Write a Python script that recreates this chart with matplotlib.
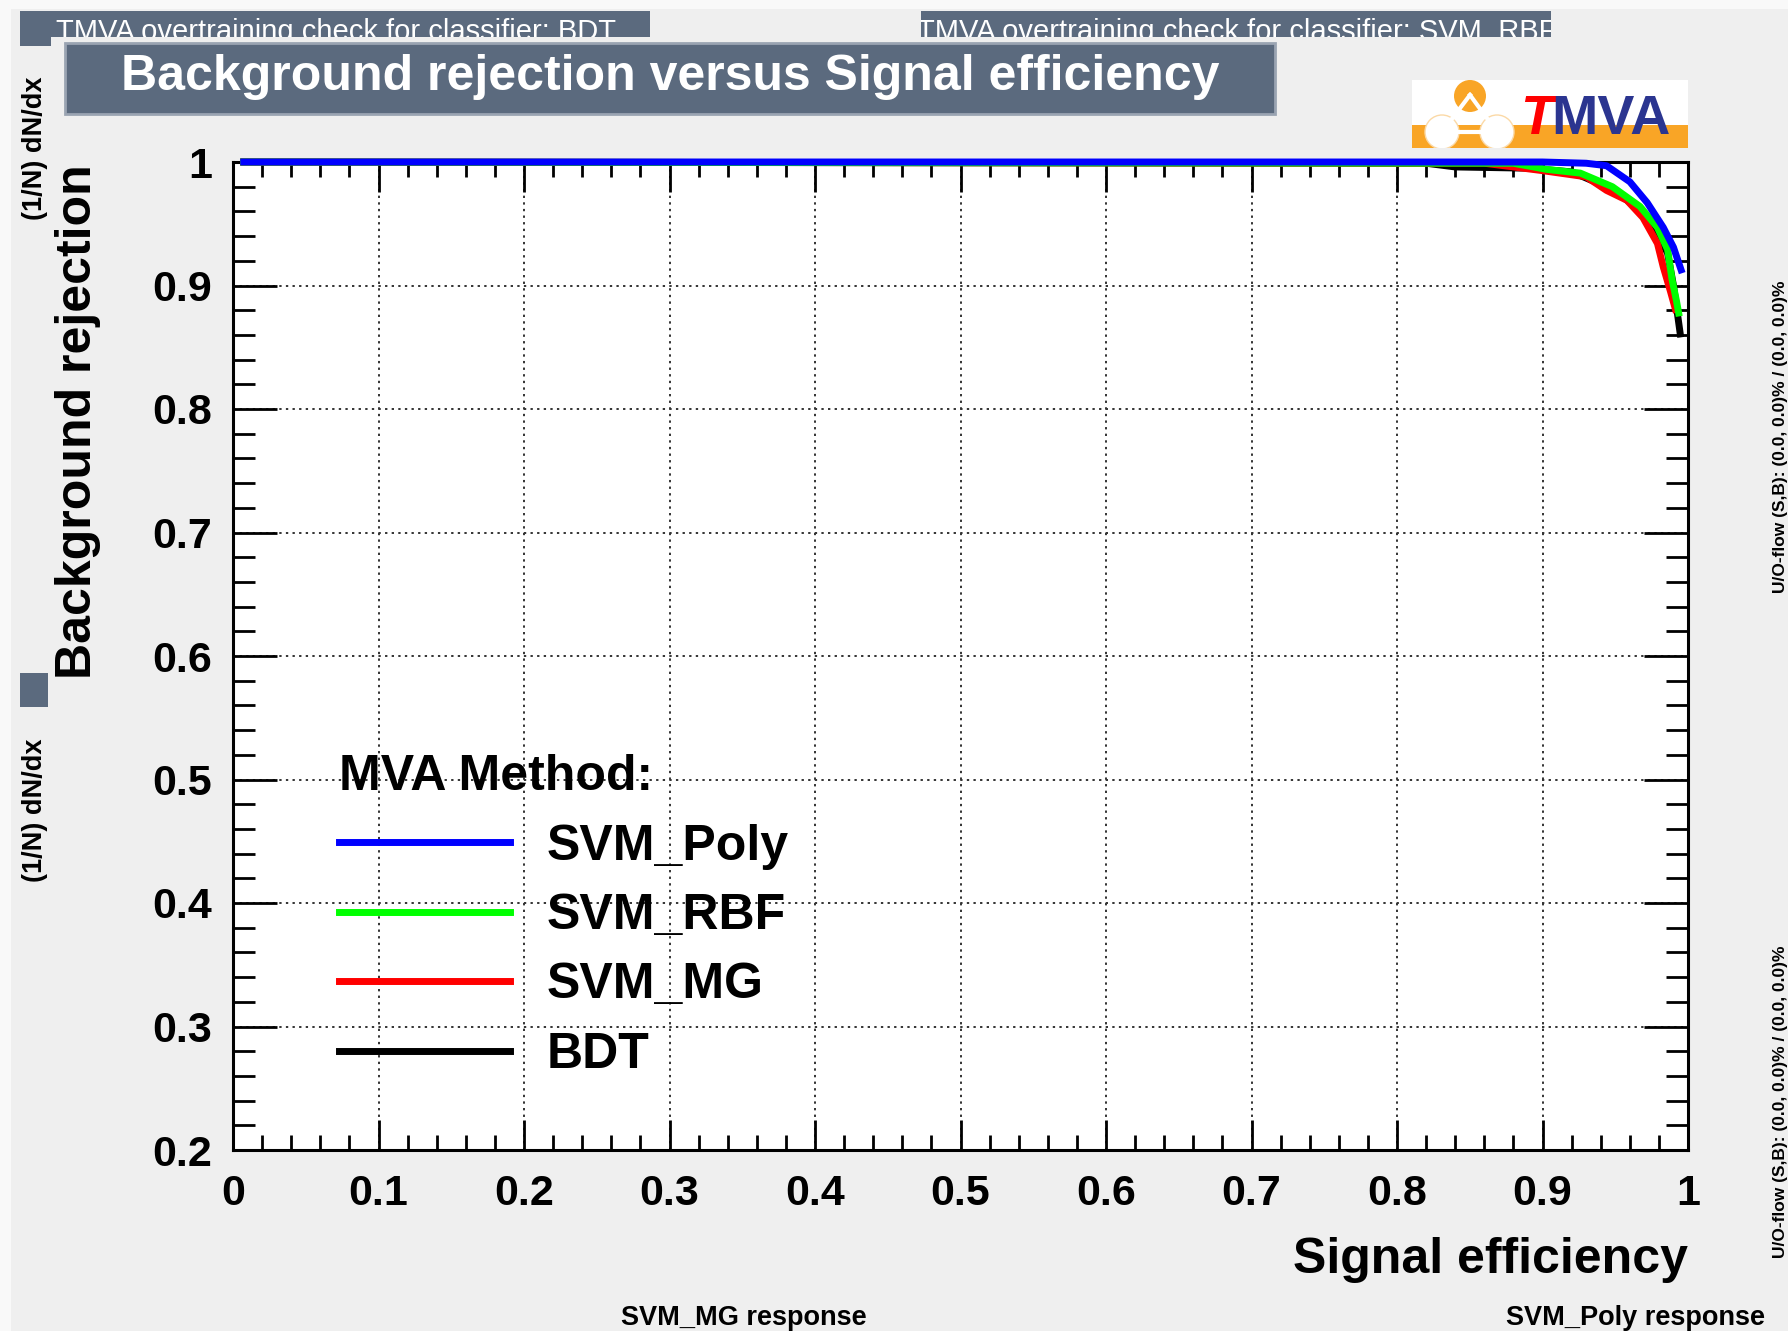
import matplotlib
matplotlib.use("Agg")
import matplotlib.pyplot as plt
from matplotlib.patches import Rectangle, Circle
from matplotlib.lines import Line2D
from matplotlib.ticker import MultipleLocator

# ---------------- data ----------------
methods = ["SVM_Poly", "SVM_RBF", "SVM_MG", "BDT"]
method_colors = ["#0000ff", "#00ff00", "#ff0000", "#000000"]

poly_eff = [0.005, 0.90, 0.93, 0.944, 0.960, 0.972, 0.983, 0.990, 0.996]
poly_rej = [1.000, 1.000, 0.999, 0.997, 0.984, 0.967, 0.947, 0.931, 0.910]

rbf_eff = [0.005, 0.88, 0.903, 0.926, 0.948, 0.967, 0.979, 0.986, 0.989, 0.992, 0.994]
rbf_rej = [1.000, 0.999, 0.994, 0.991, 0.980, 0.964, 0.947, 0.929, 0.905, 0.888, 0.875]

mg_eff = [0.005, 0.86, 0.90, 0.93, 0.944, 0.958, 0.969, 0.979, 0.983, 0.988, 0.992]
mg_rej = [1.000, 0.999, 0.993, 0.988, 0.977, 0.969, 0.955, 0.934, 0.915, 0.895, 0.878]

bdt_eff = [0.005, 0.82, 0.84, 0.89, 0.92, 0.948, 0.966, 0.978, 0.986, 0.990, 0.993, 0.995]
bdt_rej = [1.000, 0.999, 0.996, 0.995, 0.992, 0.978, 0.962, 0.945, 0.926, 0.900, 0.875, 0.858]

xtick_vals = [0.0, 0.1, 0.2, 0.3, 0.4, 0.5, 0.6, 0.7, 0.8, 0.9, 1.0]
xtick_labels = ["0", "0.1", "0.2", "0.3", "0.4", "0.5", "0.6", "0.7", "0.8", "0.9", "1"]
ytick_vals = [0.2, 0.3, 0.4, 0.5, 0.6, 0.7, 0.8, 0.9, 1.0]
ytick_labels = ["0.2", "0.3", "0.4", "0.5", "0.6", "0.7", "0.8", "0.9", "1"]

title_text = "Background rejection versus Signal efficiency"
xlabel_text = "Signal efficiency"
ylabel_text = "Background rejection"
legend_title = "MVA Method:"
banner_texts = ["TMVA overtraining check for classifier: BDT",
                "TMVA overtraining check for classifier: SVM_RBF"]
side_left_text = "(1/N) dN/dx"
side_right_text = "U/O-flow (S,B): (0.0, 0.0)% / (0.0, 0.0)%"
bottom_texts = ["SVM_MG response", "SVM_Poly response"]

# ---------------- figure ----------------
W, H = 1788, 1331
plt.rcParams["font.family"] = ["Liberation Sans", "DejaVu Sans"]
plt.rcParams["font.weight"] = "bold"
BG = "#efefef"
SLATE = "#5b6a7e"

fig = plt.figure(figsize=(W / 100, H / 100), dpi=100, facecolor=BG)


def fx(x):
    return x / W


def fy(y):
    return 1 - y / H


def frect(x0, y0, x1, y1, **kw):
    r = Rectangle((fx(x0), fy(y1)), fx(x1) - fx(x0), fy(y0) - fy(y1),
                  transform=fig.transFigure, **kw)
    fig.add_artist(r)
    return r


# light margins
frect(0, 0, W, 9, facecolor="#f9f9f9", edgecolor="none", zorder=0)
frect(0, 0, 11, H, facecolor="#f9f9f9", edgecolor="none", zorder=0)

# background banners from other canvases
b1 = frect(20, 11, 650, 37, facecolor=SLATE, edgecolor="none", zorder=1)
frect(20, 37, 51, 46, facecolor=SLATE, edgecolor="none", zorder=1)
b2 = frect(921, 11, 1551, 37, facecolor=SLATE, edgecolor="none", zorder=1)
for txt, cx, box in [(banner_texts[0], 336, b1), (banner_texts[1], 1237, b2)]:
    t = fig.text(fx(cx), fy(40), txt, color="white", fontsize=21,
                 fontweight="normal", ha="center", va="baseline", zorder=2)
    t.set_clip_path(box)

frect(20, 673, 48, 707, facecolor=SLATE, edgecolor="none", zorder=1)

for cy in [148, 810]:
    fig.text(fx(35), fy(cy), side_left_text, rotation=90, fontsize=19.5,
             ha="center", va="center", color="black")
for cy in [437, 1102]:
    fig.text(fx(1773), fy(cy), side_right_text, rotation=90, fontsize=12.5,
             ha="left", va="center", color="black")
for txt, cx in zip(bottom_texts, [744, 1636]):
    fig.text(fx(cx), fy(1318), txt, fontsize=19.5,
             ha="center", va="center", color="black")

# title box
frect(65, 43, 1275, 114, facecolor=SLATE, edgecolor="#9aa4b2", linewidth=2, zorder=3)
fig.text(fx(670), fy(77), title_text, color="white", fontsize=36,
         ha="center", va="center", zorder=4)

# ---------------- main axes ----------------
ax = fig.add_axes([fx(233), fy(1150), fx(1688) - fx(233), fy(162) - fy(1150)])
ax.set_facecolor("white")
ax.set_xlim(0, 1)
ax.set_ylim(0.2, 1)

series = [(poly_eff, poly_rej), (rbf_eff, rbf_rej), (mg_eff, mg_rej), (bdt_eff, bdt_rej)]
for i in [3, 2, 1, 0]:
    e, r = series[i]
    ax.plot(e, r, color=method_colors[i], lw=5, clip_on=False, zorder=5 + (3 - i),
            solid_joinstyle="round", solid_capstyle="butt")
handles = [Line2D([], [], color=method_colors[i], lw=5) for i in range(4)]

ax.set_xticks(xtick_vals, labels=xtick_labels)
ax.set_yticks(ytick_vals, labels=ytick_labels)
ax.xaxis.set_minor_locator(MultipleLocator(0.02))
ax.yaxis.set_minor_locator(MultipleLocator(0.02))
ax.tick_params(axis="x", which="major", direction="in", length=21.6, width=2,
               top=True, labelsize=31, pad=17)
ax.tick_params(axis="x", which="minor", direction="in", length=10.8, width=2, top=True)
ax.tick_params(axis="y", which="major", direction="in", length=31.7, width=2,
               right=True, labelsize=31, pad=15)
ax.tick_params(axis="y", which="minor", direction="in", length=15.8, width=2, right=True)
for s in ax.spines.values():
    s.set_linewidth(2.2)
ax.grid(True, which="major", color="#333333", linestyle=(0, (1.2, 2.2)), linewidth=1.4)
ax.set_axisbelow(True)

fig.text(fx(1688), fy(1260), xlabel_text, fontsize=36, ha="right", va="center")
fig.text(fx(78), fy(164), ylabel_text, fontsize=36, rotation=90, ha="center", va="top")

leg = ax.legend(handles, methods, title=legend_title, loc="upper left",
                bbox_to_anchor=(fx(339), fy(754)), bbox_transform=fig.transFigure,
                frameon=False, fontsize=36, title_fontsize=36, alignment="left",
                handlelength=3.42, handletextpad=0.73, labelspacing=0.47,
                borderpad=0, borderaxespad=0)
leg.get_title().set_fontweight("bold")

# ---------------- TMVA logo ----------------
lx0, ly0, lx1, ly1 = 1412, 80, 1688, 148
lax = fig.add_axes([fx(lx0), fy(ly1), fx(lx1) - fx(lx0), fy(ly0) - fy(ly1)])
lax.set_xlim(0, lx1 - lx0)
lax.set_ylim(ly1 - ly0, 0)
lax.axis("off")
lax.add_patch(Rectangle((0, 0), lx1 - lx0, ly1 - ly0, facecolor="white", edgecolor="none"))
ORANGE = "#f9a526"
lax.add_patch(Rectangle((0, 45), lx1 - lx0, 23, facecolor=ORANGE, edgecolor="none"))
lax.plot([58, 30], [15, 52], color="white", lw=3)
lax.plot([58, 85], [15, 52], color="white", lw=3)
lax.plot([30, 85], [52, 52], color="white", lw=3)
lax.add_patch(Circle((58, 16), 16, facecolor=ORANGE, edgecolor="none"))
lax.add_patch(Circle((30, 52), 17, facecolor="white", edgecolor="#fbd9a6", lw=1))
lax.add_patch(Circle((85, 52), 17, facecolor="white", edgecolor="#fbd9a6", lw=1))
lax.text(108, 54, "T", color="#ff0000", fontsize=40, fontstyle="italic",
         fontweight="bold", ha="left", va="baseline")
lax.text(139, 54, "MVA", color="#2b3590", fontsize=40, fontweight="bold",
         ha="left", va="baseline")

fig.savefig("out.png", dpi=100, facecolor=BG)
